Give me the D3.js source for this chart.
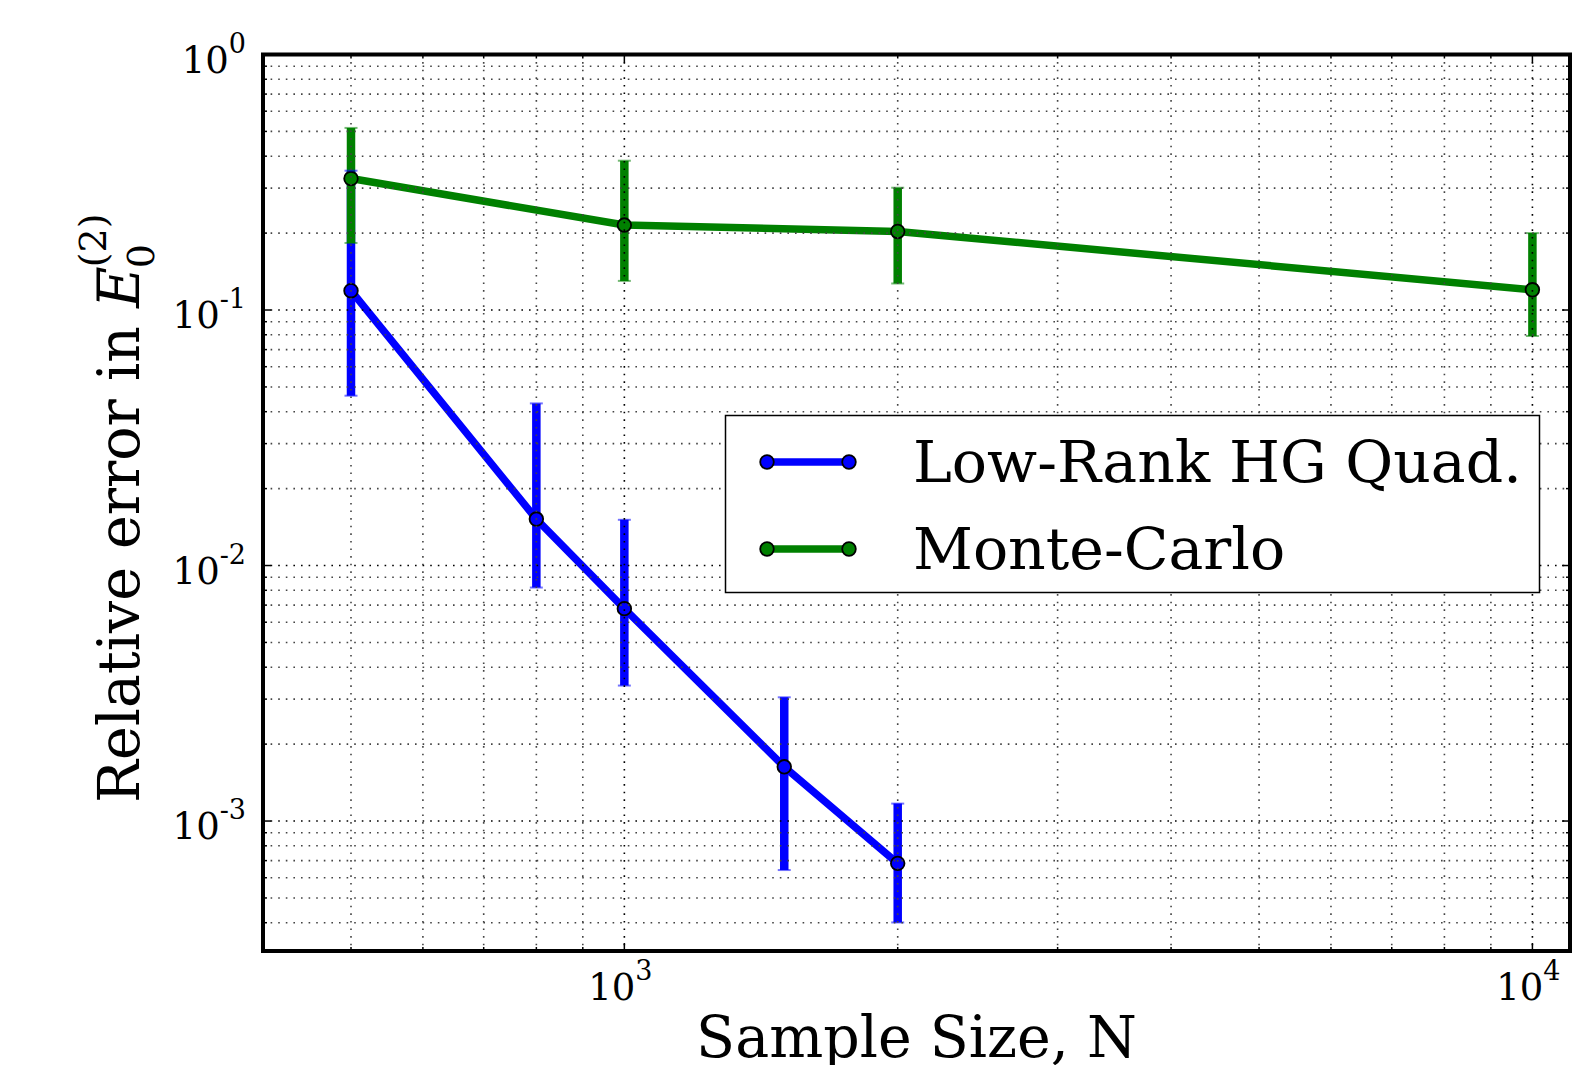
<!DOCTYPE html>
<html>
<head>
<meta charset="utf-8">
<script src="https://cdn.jsdelivr.net/npm/d3@7"></script>
<style>
  body { margin: 0; background: #fff; }
  svg { display: block; }
  text { font-family: "DejaVu Serif", serif; fill: #000; white-space: pre; }
</style>
</head>
<body>
<svg id="chart" width="1593" height="1065"></svg>
<script>
// Low-rank hypergeometric quadrature: sample sizes, mean relative error and error-bar limits
const hgSampleSizes = [500, 800, 1000, 1500, 2000];
const hgError      = [0.119, 0.0152, 0.00678, 0.00163, 0.000683];
const hgErrorLow   = [0.0462, 0.0082, 0.00339, 0.000643, 0.000401];
const hgErrorHigh  = [0.351, 0.0431, 0.0151, 0.00305, 0.00117];

// Monte-Carlo estimates
const mcSampleSizes = [500, 1000, 2000, 10000];
const mcError      = [0.327, 0.215, 0.203, 0.120];
const mcErrorLow   = [0.183, 0.130, 0.127, 0.0791];
const mcErrorHigh  = [0.516, 0.384, 0.301, 0.200];

const seriesNames = ["Low-Rank HG Quad.", "Monte-Carlo"];
const seriesColors = ["#0000ff", "#008000"];

// Axis limits and labelled decades
const xLimits = [400, 11000];
const yLimits = [3.1e-4, 1];
const xMajorTicks = [1e3, 1e4];
const xTickExponents = ["3", "4"];
const yMajorTicks = [1, 1e-1, 1e-2, 1e-3];
const yTickExponents = ["0", "-1", "-2", "-3"];

const xLabel = "Sample Size, N";
const yLabelText = "Relative error in";

const svg = d3.select("#chart");
const plot = { left: 263, right: 1570, top: 54.5, bottom: 951 };

const x = d3.scaleLog().domain(xLimits).range([plot.left, plot.right]);
const y = d3.scaleLog().domain(yLimits).range([plot.bottom, plot.top]);

const series = [
  { name: seriesNames[0], color: seriesColors[0], xs: hgSampleSizes, v: hgError, lo: hgErrorLow, hi: hgErrorHigh },
  { name: seriesNames[1], color: seriesColors[1], xs: mcSampleSizes, v: mcError, lo: mcErrorLow, hi: mcErrorHigh }
].map(s => ({ ...s, pts: s.xs.map((n, i) => ({ n, v: s.v[i], lo: s.lo[i], hi: s.hi[i] })) }));

const dataLayer = svg.append("g");
const capLayer = svg.append("g");

series.forEach(s => {
  const g = dataLayer.append("g");
  // vertical error bars
  g.selectAll("line.bar").data(s.pts).join("line")
    .attr("class", "bar")
    .attr("x1", d => x(d.n)).attr("x2", d => x(d.n))
    .attr("y1", d => y(d.lo)).attr("y2", d => y(d.hi))
    .attr("stroke", s.color).attr("stroke-width", 8.5);
  // connecting line
  g.append("path")
    .attr("d", d3.line().x(d => x(d.n)).y(d => y(d.v))(s.pts))
    .attr("fill", "none").attr("stroke", s.color)
    .attr("stroke-width", 7.5).attr("stroke-linejoin", "round");
  // markers
  g.selectAll("circle").data(s.pts).join("circle")
    .attr("cx", d => x(d.n)).attr("cy", d => y(d.v)).attr("r", 6.8)
    .attr("fill", s.color).attr("stroke", "#000").attr("stroke-width", 1.8);
  // caps
  const caps = s.pts.flatMap(d => [{ n: d.n, v: d.lo }, { n: d.n, v: d.hi }]);
  capLayer.selectAll(null).data(caps).join("line")
    .attr("x1", d => x(d.n) - 6.5).attr("x2", d => x(d.n) + 6.5)
    .attr("y1", d => y(d.v)).attr("y2", d => y(d.v))
    .attr("stroke", s.color).attr("stroke-opacity", 0.55).attr("stroke-width", 2);
});

// dotted grid over the data, at every decade and sub-decade
const gridLayer = svg.append("g");
const xGrid = x.ticks().filter(t => x(t) > plot.left + 2 && x(t) < plot.right - 2);
const yGrid = y.ticks().filter(t => y(t) > plot.top + 2 && y(t) < plot.bottom - 2);
const isMajor = t => Math.abs(Math.log10(t) - Math.round(Math.log10(t))) < 1e-9;
gridLayer.selectAll("line.gx").data(xGrid).join("line")
  .attr("x1", d => x(d)).attr("x2", d => x(d))
  .attr("y1", plot.top).attr("y2", plot.bottom)
  .attr("stroke", d => isMajor(d) ? "#000" : "#444")
  .attr("stroke-width", 1.6).attr("stroke-dasharray", "1.6,6");
gridLayer.selectAll("line.gy").data(yGrid).join("line")
  .attr("x1", plot.left).attr("x2", plot.right)
  .attr("y1", d => y(d)).attr("y2", d => y(d))
  .attr("stroke", d => isMajor(d) ? "#000" : "#444")
  .attr("stroke-width", 1.6).attr("stroke-dasharray", "1.6,6");

// inward tick marks on all four sides
const tickLayer = svg.append("g").attr("stroke", "#000").attr("stroke-width", 1.5);
x.ticks().forEach(t => {
  const len = isMajor(t) ? 8 : 4;
  tickLayer.append("line").attr("x1", x(t)).attr("x2", x(t)).attr("y1", plot.bottom).attr("y2", plot.bottom - len);
  tickLayer.append("line").attr("x1", x(t)).attr("x2", x(t)).attr("y1", plot.top).attr("y2", plot.top + len);
});
y.ticks().forEach(t => {
  const len = isMajor(t) ? 8 : 4;
  tickLayer.append("line").attr("y1", y(t)).attr("y2", y(t)).attr("x1", plot.left).attr("x2", plot.left + len);
  tickLayer.append("line").attr("y1", y(t)).attr("y2", y(t)).attr("x1", plot.right).attr("x2", plot.right - len);
});

// frame
svg.append("rect")
  .attr("x", plot.left).attr("y", plot.top)
  .attr("width", plot.right - plot.left).attr("height", plot.bottom - plot.top)
  .attr("fill", "none").attr("stroke", "#000").attr("stroke-width", 4);

// tick labels: 10 with superscript exponent
function powerLabel(sel, exp) {
  sel.append("tspan").text("10");
  sel.append("tspan").attr("font-size", 27).attr("dy", -20).text(exp);
}
yMajorTicks.forEach((t, i) => {
  svg.append("text")
    .attr("x", 246).attr("y", y(t) + 18)
    .attr("text-anchor", "end").attr("font-size", 37)
    .call(powerLabel, yTickExponents[i]);
});
xMajorTicks.forEach((t, i) => {
  svg.append("text")
    .attr("x", x(t) - 4).attr("y", 1000)
    .attr("text-anchor", "middle").attr("font-size", 37)
    .call(powerLabel, xTickExponents[i]);
});

// axis labels
svg.append("text")
  .attr("x", (plot.left + plot.right) / 2).attr("y", 1057)
  .attr("text-anchor", "middle").attr("font-size", 57)
  .text(xLabel);

const yl = svg.append("g").attr("transform", "translate(139,803) rotate(-90)");
const ylMain = yl.append("text").attr("font-size", 57).text(yLabelText);
const mainLen = ylMain.node().getComputedTextLength() + 0.318 * 57;
const eSym = yl.append("text").attr("x", mainLen).attr("font-size", 57)
  .attr("font-style", "italic").text("E");
const eLen = eSym.node().getComputedTextLength();
yl.append("text").attr("x", mainLen + eLen - 2).attr("y", 15).attr("font-size", 38).text("0");
yl.append("text").attr("x", mainLen + eLen - 1).attr("y", -33).attr("font-size", 38).text("(2)");

// legend
const legend = svg.append("g");
legend.append("rect")
  .attr("x", 725.5).attr("y", 415.5).attr("width", 814).attr("height", 177)
  .attr("fill", "#fff").attr("stroke", "#000").attr("stroke-width", 1.5);
const legendRows = [462, 549];
series.forEach((s, i) => {
  const ry = legendRows[i];
  legend.append("line").attr("x1", 767).attr("x2", 849).attr("y1", ry).attr("y2", ry)
    .attr("stroke", s.color).attr("stroke-width", 7.5);
  [767, 849].forEach(cx => legend.append("circle").attr("cx", cx).attr("cy", ry).attr("r", 6.8)
    .attr("fill", s.color).attr("stroke", "#000").attr("stroke-width", 1.8));
  legend.append("text").attr("x", 913).attr("y", ry + 20).attr("font-size", 58.5).text(s.name);
});
</script>
</body>
</html>
